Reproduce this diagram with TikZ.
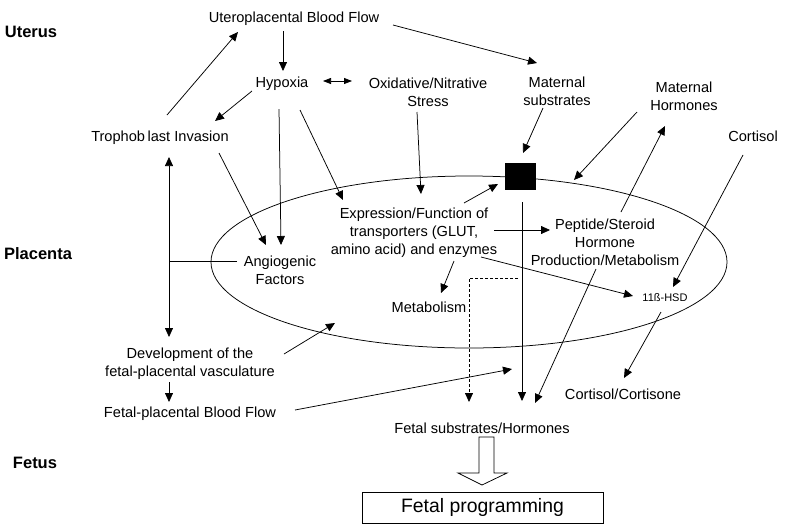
\documentclass[tikz,border=0pt]{standalone}
\usepackage{fontspec}
\setmainfont{Liberation Sans}
\usetikzlibrary{arrows.meta,shapes.geometric}
\begin{document}
\begin{tikzpicture}[x=1pt,y=-1pt,
  lbl/.style={font=\fontsize{14.6}{18}\selectfont, align=center, inner sep=0pt},
  region/.style={font=\fontsize{16.5}{20}\selectfont\bfseries, inner sep=0pt},
  link/.style={line width=0.75pt},
  arr/.style={line width=0.75pt, -{Triangle[length=9pt,width=8pt]}},
  darr/.style={line width=0.75pt, {Triangle[length=8pt,width=6pt]}-{Triangle[length=8pt,width=6pt]}},
  barr/.style={line width=0.75pt, {Triangle[length=9pt,width=8pt]}-{Triangle[length=9pt,width=8pt]}},
]
\useasboundingbox (0,0) rectangle (786,531);

% region labels
\node[region] (uterus) at (31,32) {Uterus};
\node[region] (placenta) at (38,254) {Placenta};
\node[region] (fetus) at (35,463) {Fetus};

% placenta ellipse and transporter square
\node[draw, ellipse, minimum width=516pt, minimum height=172pt, inner sep=0pt, line width=0.75pt] (pl) at (469,262) {};
\node[fill=black, minimum width=31pt, minimum height=27pt, inner sep=0pt] (sq) at (520.5,176.5) {};

% text nodes
\node[lbl] (ubf) at (294,19) {Uteroplacental Blood Flow};
\node[lbl] (hyp) at (282,84) {Hypoxia};
\node[lbl] (ox) at (428,92) {Oxidative/Nitrative\\Stress};
\node[lbl] (ms) at (557,91) {Maternal\\substrates};
\node[lbl] (mh) at (684,96) {Maternal\\Hormones};
\node[lbl] (cort) at (753,136) {Cortisol};
\node[lbl] (tro) at (160,138) {Trophob\kern2.5pt last Invasion};
\node[lbl] (angio) at (280,270) {Angiogenic\\Factors};
\node[lbl] (expr) at (414,233) {Expression/Function of\\transporters (GLUT,\\amino acid) and enzymes};
\node[lbl] (pep) at (605,242) {Peptide/Steroid\\Hormone\\Production/Metabolism};
\node[lbl] (metab) at (429,307) {Metabolism};
\node[lbl, font=\fontsize{11}{13}\selectfont] (hsd) at (665,298) {11ß-HSD};
\node[lbl] (dev) at (190,364) {Development of the\\fetal-placental vasculature};
\node[lbl] (fpbf) at (190,414) {Fetal-placental Blood Flow};
\node[lbl] (cc) at (623,394) {Cortisol/Cortisone};
\node[lbl] (fsh) at (482,428) {Fetal substrates/Hormones};
\node[draw, line width=0.75pt, minimum width=241pt, minimum height=31pt, inner sep=0pt,
      font=\fontsize{19.4}{22}\selectfont] (fp) at (482.5,507.5) {Fetal programming};

\coordinate (j) at (169,261);
\coordinate (fpend) at (512,369);

% connectors
\draw[arr] ([shift={(7,-23)}]tro.center) -- ([shift={(-56,13)}]ubf.center);
\draw[arr] ([shift={(-11,12)}]ubf.center) -- ([shift={(1,-13)}]hyp.center);
\draw[arr] ([shift={(99,6)}]ubf.center) -- ([shift={(-20,-28)}]ms.center);
\draw[darr] ([shift={(41,-3)}]hyp.center) -- ([shift={(-76,-11)}]ox.center);
\draw[arr] ([shift={(-30,7)}]hyp.center) -- ([shift={(55,-17)}]tro.center);
\draw[arr] ([shift={(-3,25)}]hyp.center) -- ([shift={(1,-25)}]angio.center);
\draw[arr] ([shift={(18,26)}]hyp.center) -- ([shift={(-71,-33)}]expr.center);
\draw[arr] ([shift={(59,15)}]tro.center) -- ([shift={(-14,-25)}]angio.center);
\draw[arr] ([shift={(-11,20)}]ox.center) -- ([shift={(7,-39)}]expr.center);
\draw[arr] ([shift={(-14,17)}]ms.center) -- ([shift={(2.5,-23.5)}]sq.center);
\draw[arr] ([shift={(-47,16)}]mh.center) -- ([shift={(105,-82)}]pl.center);
\draw[arr] ([shift={(16,-30)}]pep.center) -- ([shift={(-19,30)}]mh.center);
\draw[arr] ([shift={(-10,19)}]cort.center) -- ([shift={(8,-11)}]hsd.center);
\draw[arr] ([shift={(50,-30)}]expr.center) -- ([shift={(-22.5,7.5)}]sq.center);
\draw[arr] ([shift={(80,-3)}]expr.center) -- ([shift={(-55,-12)}]pep.center);
\draw[arr] ([shift={(1.5,25.5)}]sq.center) -- ([shift={(40,-27)}]fsh.center);
\draw[arr] ([shift={(40,28)}]expr.center) -- ([shift={(12,-14)}]metab.center);
\draw[arr] ([shift={(67,24)}]expr.center) -- ([shift={(-32,-2)}]hsd.center);
\draw[arr, dashed, dash pattern=on 3pt off 2pt] ([shift={(-2.5,101.5)}]sq.center) -| ([shift={(-13,-26)}]fsh.center);
\draw[arr] ([shift={(-9,27)}]pep.center) -- ([shift={(53,-25)}]fsh.center);
\draw[arr] ([shift={(-4,14)}]hsd.center) -- ([shift={(1,-16)}]cc.center);
\draw[barr] ([shift={(9,19)}]tro.center) -- ([shift={(-21,-27)}]dev.center);
\draw[link] ([shift={(-43,-9)}]angio.center) -- (j);
\draw[arr] ([shift={(94,-10)}]dev.center) -- ([shift={(-134,61)}]pl.center);
\draw[arr] ([shift={(-21,18)}]dev.center) -- ([shift={(-21,-12)}]fpbf.center);
\draw[arr] ([shift={(105,-4)}]fpbf.center) -- (fpend);

% hollow arrow to fetal programming
\draw[line width=0.75pt, fill=white, shift={(fsh.center)}]
  (-3,9) -- (12,9) -- (12,45) -- (25,45) -- (0,57) -- (-24,45) -- (-3,45) -- cycle;
\end{tikzpicture}
\end{document}
